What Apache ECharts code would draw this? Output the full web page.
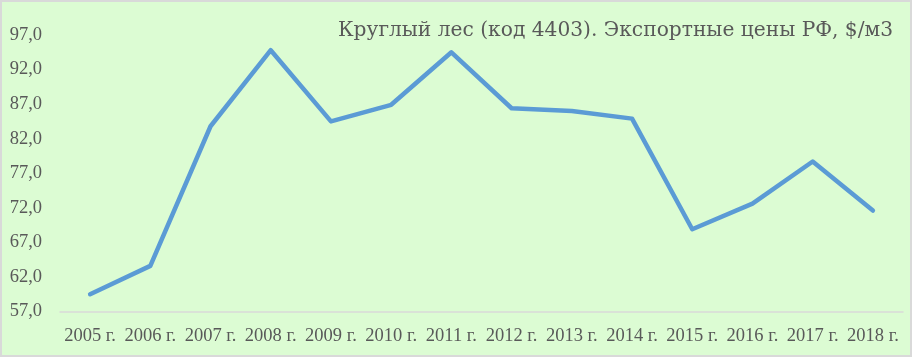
<!DOCTYPE html>
<html>
<head>
<meta charset="utf-8">
<script src="https://cdn.jsdelivr.net/npm/echarts@6/dist/echarts.min.js"></script>
<style>
html,body{margin:0;padding:0;background:#d9d9d9;}
#c{position:absolute;left:2px;top:2px;width:908px;height:353px;}
</style>
</head>
<body>
<div id="c"></div>
<script>
const categories = ["2005 г.","2006 г.","2007 г.","2008 г.","2009 г.","2010 г.","2011 г.","2012 г.","2013 г.","2014 г.","2015 г.","2016 г.","2017 г.","2018 г."];
const prices = [59.5, 63.6, 83.8, 94.8, 84.5, 86.9, 94.5, 86.4, 86.0, 84.9, 68.9, 72.6, 78.7, 71.6];
const titleText = "Круглый лес (код 4403). Экспортные цены РФ, $/м3";
const yMin = 57, yMax = 97, yStep = 5;

const chart = echarts.init(document.getElementById('c'), null, {renderer:'canvas'});
const font = '"Liberation Serif", "DejaVu Serif", serif';
chart.setOption({
  backgroundColor: '#dcfcd3',
  animation: false,
  title: {
    text: titleText,
    right: 12,
    top: 14,
    textStyle: {fontFamily: '"DejaVu Serif", serif', fontSize: 20.2, fontWeight: 'normal', color: '#595959'}
  },
  grid: {left: 58, right: 7, top: 33, bottom: 43.5},
  xAxis: {
    type: 'category',
    data: categories,
    boundaryGap: true,
    axisLine: {lineStyle: {color: '#d9d9d9', width: 1.5}},
    axisTick: {show: false},
    axisLabel: {interval: 0, margin: 15, color: '#595959', fontFamily: font, fontSize: 18.5}
  },
  yAxis: {
    type: 'value',
    min: yMin, max: yMax, interval: yStep,
    axisLine: {show: false},
    axisTick: {show: false},
    splitLine: {show: false},
    axisLabel: {
      margin: 18, color: '#595959', fontFamily: font, fontSize: 18.5,
      formatter: v => v.toFixed(1).replace('.', ',')
    }
  },
  series: [{
    type: 'line',
    data: prices,
    symbol: 'none',
    lineStyle: {color: '#5b9bd5', width: 4.5, cap: 'round', join: 'round'}
  }]
});
</script>
</body>
</html>
